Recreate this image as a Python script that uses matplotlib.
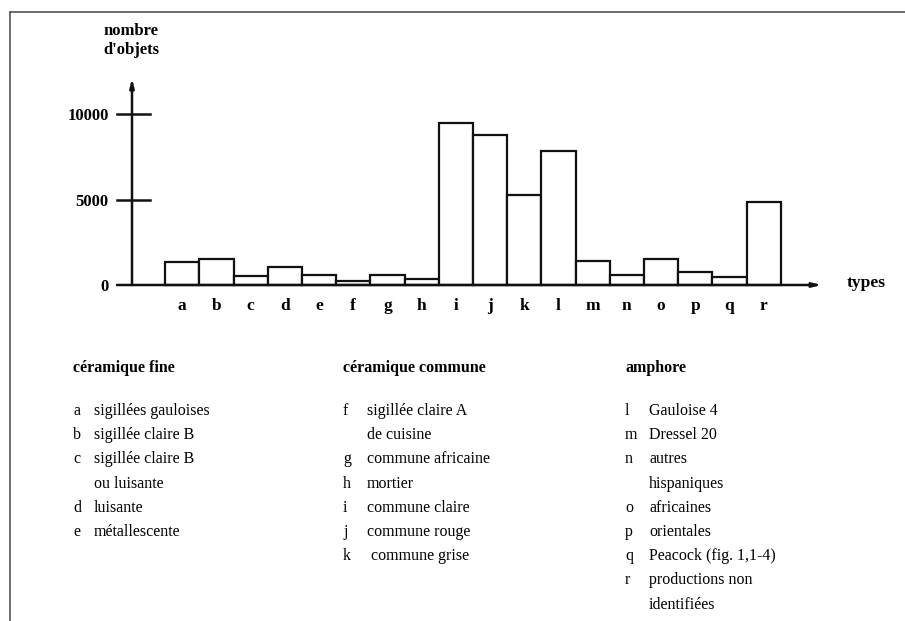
import matplotlib
matplotlib.use("Agg")
import matplotlib.pyplot as plt

plt.rcParams['font.family'] = ['Liberation Serif', 'DejaVu Serif']

categories = list("abcdefghijklmnopqr")
values = [1350, 1540, 510, 1070, 590, 215, 590, 350, 9480, 8790, 5260, 7840,
          1385, 565, 1520, 780, 470, 4850]
yticks = [0, 5000, 10000]
ytick_labels = ["0", "5000", "10000"]

groups = [
    ("céramique fine", [("a", "sigillées gauloises"), ("b", "sigillée claire B"),
                        ("c", "sigillée claire B"), ("", "ou luisante"),
                        ("d", "luisante"), ("e", "métallescente")]),
    ("céramique commune", [("f", "sigillée claire A"), ("", "de cuisine"),
                           ("g", "commune africaine"), ("h", "mortier"),
                           ("i", "commune claire"), ("j", "commune rouge"),
                           ("k", " commune grise")]),
    ("amphore", [("l", "Gauloise 4"), ("m", "Dressel 20"), ("n", "autres"),
                 ("", "hispaniques"), ("o", "africaines"), ("p", "orientales"),
                 ("q", "Peacock (fig. 1,1-4)"), ("r", "productions non"),
                 ("", "identifiées")]),
]

W, H = 905, 621
fig = plt.figure(figsize=(W / 100, H / 100), dpi=100)

# px helpers (from top-left)
def fx(px):
    return px / W

def fy(py):
    return 1 - py / H

ax_left, ax_right, ax_top, ax_bot = 112, 840, 70, 290
ax = fig.add_axes([fx(ax_left), fy(ax_bot), (ax_right - ax_left) / W, (ax_bot - ax_top) / H])
x0px, bw = 182.2, 34.2
base_px, per = 285, 171 / 10000
ax.set_xlim((ax_left - x0px) / bw, (ax_right - x0px) / bw)
ax.set_ylim(-(ax_bot - base_px) / per, (base_px - ax_top) / per)
for s in ax.spines.values():
    s.set_visible(False)

x = list(range(len(categories)))
ax.bar(x, values, width=1.0, color="white", edgecolor="#111111", linewidth=1.6, zorder=2)

ax.set_xticks(x, categories)
ax.set_yticks(yticks, ytick_labels)
ax.tick_params(axis="x", length=0, pad=6, labelsize=12.5)
ax.tick_params(axis="y", length=0, pad=2.5, labelsize=12)
for lab in ax.get_xticklabels() + ax.get_yticklabels():
    lab.set_fontweight("bold")

def dx(px):
    return (px - x0px) / bw

# axes with arrows
lw = 1.8
ax.annotate("", xy=(dx(822), 0), xytext=(dx(117), 0),
            arrowprops=dict(arrowstyle="-|>,head_length=0.5,head_width=0.12", lw=lw, color="#111111",
                            shrinkA=0, shrinkB=0), annotation_clip=False, zorder=3)
ax.annotate("", xy=(dx(132), (base_px - 78) / per), xytext=(dx(132), 0),
            arrowprops=dict(arrowstyle="-|>,head_length=0.5,head_width=0.12", lw=lw, color="#111111",
                            shrinkA=0, shrinkB=0), annotation_clip=False, zorder=3)
for t in yticks[1:]:
    ax.plot([dx(117), dx(150)], [t, t], color="#111111", lw=lw, clip_on=False, zorder=3)

fig.text(fx(131), fy(31), "nombre", ha="center", va="center", fontsize=12, fontweight="bold")
fig.text(fx(131), fy(50), "d'objets", ha="center", va="center", fontsize=12, fontweight="bold")
fig.text(fx(866), fy(283), "types", ha="center", va="center", fontsize=12.5, fontweight="bold")

# frame lines
fig.add_artist(plt.Line2D([fx(10), fx(10)], [fy(12), fy(621)], color="#555555", lw=1.2))
fig.add_artist(plt.Line2D([fx(10), fx(905)], [fy(12), fy(12)], color="#555555", lw=1.2))

# legend columns
cols = [73, 343, 625]
offs = [21, 24, 24]
for (title, items), cx, off in zip(groups, cols, offs):
    fig.text(fx(cx), fy(368), title, ha="left", va="center", fontsize=11.5, fontweight="bold")
    for k, (letter, text) in enumerate(items):
        yy = fy(411 + k * 24.2)
        if letter:
            fig.text(fx(cx), yy, letter, ha="left", va="center", fontsize=11.5)
        fig.text(fx(cx + off), yy, text, ha="left", va="center", fontsize=11.5)

fig.savefig("out.png", dpi=100)
